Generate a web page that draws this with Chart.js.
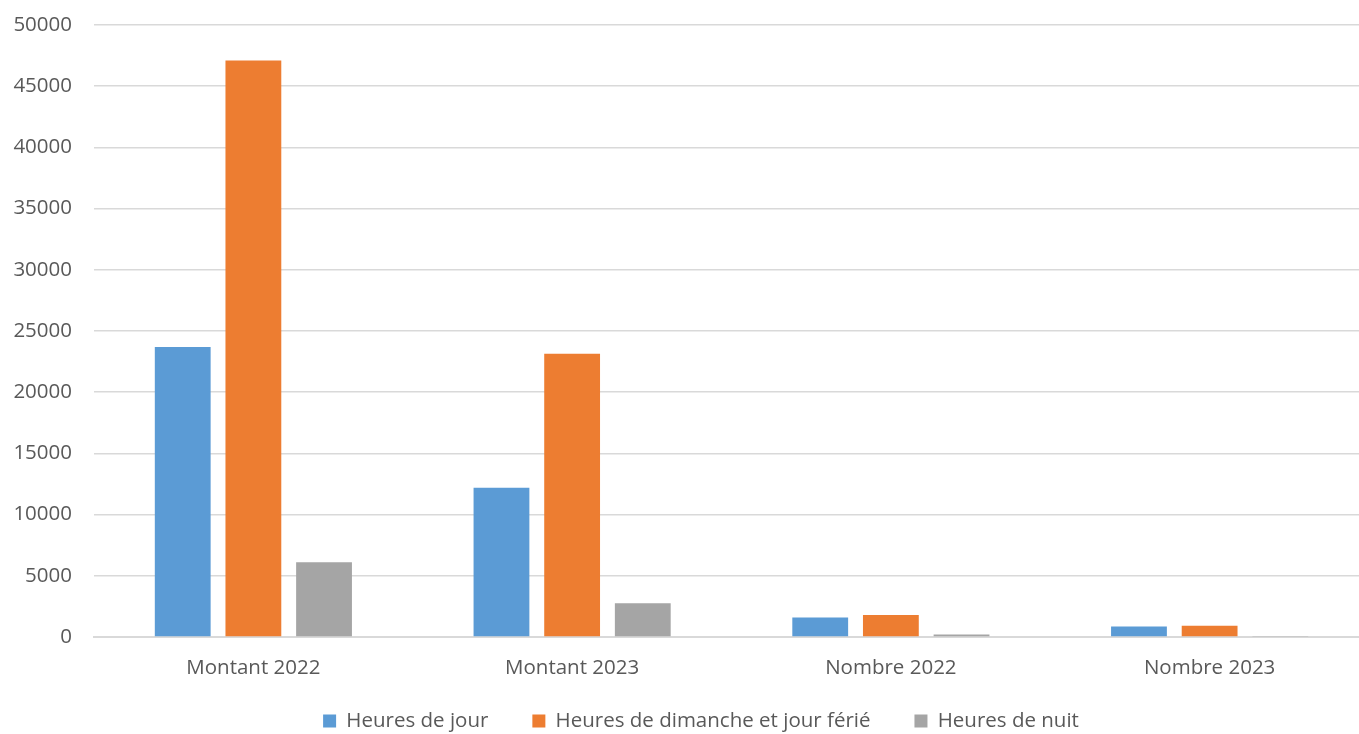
<!DOCTYPE html>
<html>
<head>
<meta charset="utf-8">
<script src="https://cdn.jsdelivr.net/npm/chart.js@4"></script>
<style>
html,body{margin:0;padding:0;background:#fff;}
#wrap{width:1359px;height:734px;position:relative;}
</style>
</head>
<body>
<div id="wrap"><canvas id="c" width="1359" height="734"></canvas></div>
<script>
const categories = ["Montant 2022", "Montant 2023", "Nombre 2022", "Nombre 2023"];
const heuresJour = [23700, 12200, 1590, 860];
const heuresDimanche = [47100, 23150, 1800, 915];
const heuresNuit = [6100, 2750, 200, 80];
const yTicks = [0, 5000, 10000, 15000, 20000, 25000, 30000, 35000, 40000, 45000, 50000];

const FONT = "'Open Sans', sans-serif";
const FS = 20.5;
const LEGEND_PAD = 44;
const PLOT_RIGHT = 1369;

const layoutFix = {
  id: 'layoutFix',
  beforeUpdate(chart) {
    const lg = chart.legend;
    if (lg && !lg._patched) {
      const orig = lg.fit;
      lg.fit = function() { orig.call(this); this.height = 37; };
      lg._patched = true;
    }
  },
  afterLayout(chart) {
    const lg = chart.legend;
    if (lg) {
      lg.top = 721 - LEGEND_PAD - FS / 2;
      lg.bottom = 734;
      lg.height = lg.bottom - lg.top;
      const shift = 701 - (lg.left + lg.right) / 2;
      lg.left += shift;
      lg.right += shift;
    }
    const x = chart.scales.x;
    x.right = PLOT_RIGHT;
    x.width = x.right - x.left;
    x.configure();
    chart.chartArea.right = PLOT_RIGHT;
    chart.chartArea.width = PLOT_RIGHT - chart.chartArea.left;
  }
};

new Chart(document.getElementById('c'), {
  type: 'bar',
  data: {
    labels: categories,
    datasets: [
      {label: "Heures de jour", data: heuresJour, backgroundColor: "#5b9bd5"},
      {label: "Heures de dimanche et jour férié", data: heuresDimanche, backgroundColor: "#ed7d31"},
      {label: "Heures de nuit", data: heuresNuit, backgroundColor: "#a5a5a5"}
    ]
  },
  plugins: [layoutFix],
  options: {
    responsive: false,
    animation: false,
    devicePixelRatio: 1,
    layout: {padding: {top: 25, right: 0, left: 0, bottom: 0}},
    datasets: {bar: {categoryPercentage: 0.665, barPercentage: 0.79}},
    plugins: {
      legend: {
        position: 'bottom',
        labels: {
          font: {family: FONT, size: FS},
          color: '#595959',
          boxWidth: 13, boxHeight: 13,
          padding: LEGEND_PAD
        }
      },
      tooltip: {enabled: false}
    },
    scales: {
      x: {
        afterFit: (s) => { s.height = 60; },
        grid: {display: false, drawTicks: false},
        border: {display: true, color: '#d9d9d9', width: 2},
        ticks: {font: {family: FONT, size: FS}, color: '#595959', padding: 19}
      },
      y: {
        min: 0, max: 50000,
        afterBuildTicks: (s) => { s.ticks = yTicks.map(v => ({value: v})); },
        afterFit: (s) => { s.width = 94; s.paddingTop = 0; s.paddingBottom = 0; },
        grid: {color: '#d9d9d9', lineWidth: 1.5, drawTicks: false},
        border: {display: false},
        ticks: {font: {family: FONT, size: FS}, color: '#595959', padding: 22, callback: (v) => String(v)}
      }
    }
  }
});
</script>
</body>
</html>
